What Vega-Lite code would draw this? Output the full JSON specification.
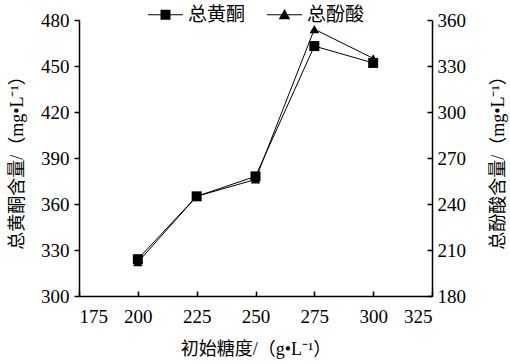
{
  "$schema": "https://vega.github.io/schema/vega-lite/v6.json",
  "width": 353,
  "height": 276,
  "autosize": {"type": "none"},
  "padding": {"left": 79, "top": 20, "right": 78, "bottom": 68},
  "background": "white",
  "data": {
    "values": [
      {"sugar": 200, "series": "总黄酮", "value": 324},
      {"sugar": 225, "series": "总黄酮", "value": 365},
      {"sugar": 250, "series": "总黄酮", "value": 378},
      {"sugar": 275, "series": "总黄酮", "value": 463},
      {"sugar": 300, "series": "总黄酮", "value": 452},
      {"sugar": 200, "series": "总酚酸", "value": 202},
      {"sugar": 225, "series": "总酚酸", "value": 245},
      {"sugar": 250, "series": "总酚酸", "value": 256},
      {"sugar": 275, "series": "总酚酸", "value": 354},
      {"sugar": 300, "series": "总酚酸", "value": 335}
    ]
  },
  "config": {
    "view": {"stroke": null},
    "axis": {
      "grid": false,
      "domainColor": "black",
      "tickColor": "black",
      "labelColor": "black",
      "titleColor": "black",
      "labelFont": "Liberation Serif",
      "labelFontSize": 19,
      "titleFont": "Liberation Serif, Noto Sans CJK SC",
      "titleFontSize": 18,
      "titleFontWeight": "normal",
      "domainWidth": 1.5,
      "tickWidth": 1.5
    }
  },
  "layer": [
    {
      "transform": [{"filter": "datum.series === '总黄酮'"}],
      "layer": [
        {
          "mark": {"type": "line", "color": "black", "strokeWidth": 1},
          "encoding": {
            "x": {"field": "sugar", "type": "quantitative", "scale": {"domain": [175, 325], "nice": false},
              "axis": {"values": [175, 200, 225, 250, 275, 300, 325], "tickSize": -5, "labelPadding": 16, "title": "初始糖度/（g•L⁻¹）", "titlePadding": 14}},
            "y": {"field": "value", "type": "quantitative", "scale": {"domain": [300, 480], "nice": false},
              "axis": {"orient": "left", "values": [300, 330, 360, 390, 420, 450, 480], "tickSize": 5, "labelPadding": 5, "title": "总黄酮含量/（mg•L⁻¹）", "titlePadding": 14}}
          }
        },
        {
          "mark": {"type": "point", "shape": "square", "filled": true, "color": "black", "size": 100, "opacity": 1},
          "encoding": {
            "x": {"field": "sugar", "type": "quantitative"},
            "y": {"field": "value", "type": "quantitative"}
          }
        },
        {
          "mark": {"type": "point", "filled": true, "color": "black", "size": 100, "opacity": 0},
          "encoding": {
            "x": {"field": "sugar", "type": "quantitative"},
            "y": {"field": "value", "type": "quantitative"},
            "shape": {"field": "series", "type": "nominal",
              "scale": {"domain": ["总黄酮", "总酚酸"], "range": ["M-3.5,-0.1H3.5V0.1H-3.5ZM-1,-1H1V1H-1Z", "M-3.5,-0.1H3.5V0.1H-3.5ZM0,-1.15L1.15,0.9H-1.15Z"]},
              "legend": {
                "title": null, "orient": "none", "direction": "horizontal",
                "legendX": 65, "legendY": -15,
                "labelFont": "Noto Sans CJK SC", "labelFontSize": 19, "labelColor": "black",
                "symbolSize": 100, "symbolOpacity": 1, "symbolFillColor": "black", "symbolStrokeColor": "black", "symbolStrokeWidth": 0,
                "symbolOffset": 12, "labelOffset": 13, "columnPadding": 17
              }}
          }
        }
      ]
    },
    {
      "transform": [{"filter": "datum.series === '总酚酸'"}],
      "layer": [
        {
          "mark": {"type": "line", "color": "black", "strokeWidth": 1},
          "encoding": {
            "x": {"field": "sugar", "type": "quantitative"},
            "y": {"field": "value", "type": "quantitative", "scale": {"domain": [180, 360], "nice": false},
              "axis": {"orient": "right", "values": [180, 210, 240, 270, 300, 330, 360], "tickSize": -5, "labelPadding": 10, "title": "总酚酸含量/（mg•L⁻¹）", "titleAngle": -90, "titlePadding": 42}}
          }
        },
        {
          "mark": {"type": "point", "shape": "triangle-up", "filled": true, "color": "black", "size": 90, "opacity": 1},
          "encoding": {
            "x": {"field": "sugar", "type": "quantitative"},
            "y": {"field": "value", "type": "quantitative"}
          }
        },
        {
          "mark": {"type": "point", "filled": true, "color": "black", "size": 100, "opacity": 0},
          "encoding": {
            "x": {"field": "sugar", "type": "quantitative"},
            "y": {"field": "value", "type": "quantitative"},
            "shape": {"field": "series", "type": "nominal"}
          }
        }
      ]
    }
  ],
  "resolve": {"scale": {"y": "independent"}}
}
